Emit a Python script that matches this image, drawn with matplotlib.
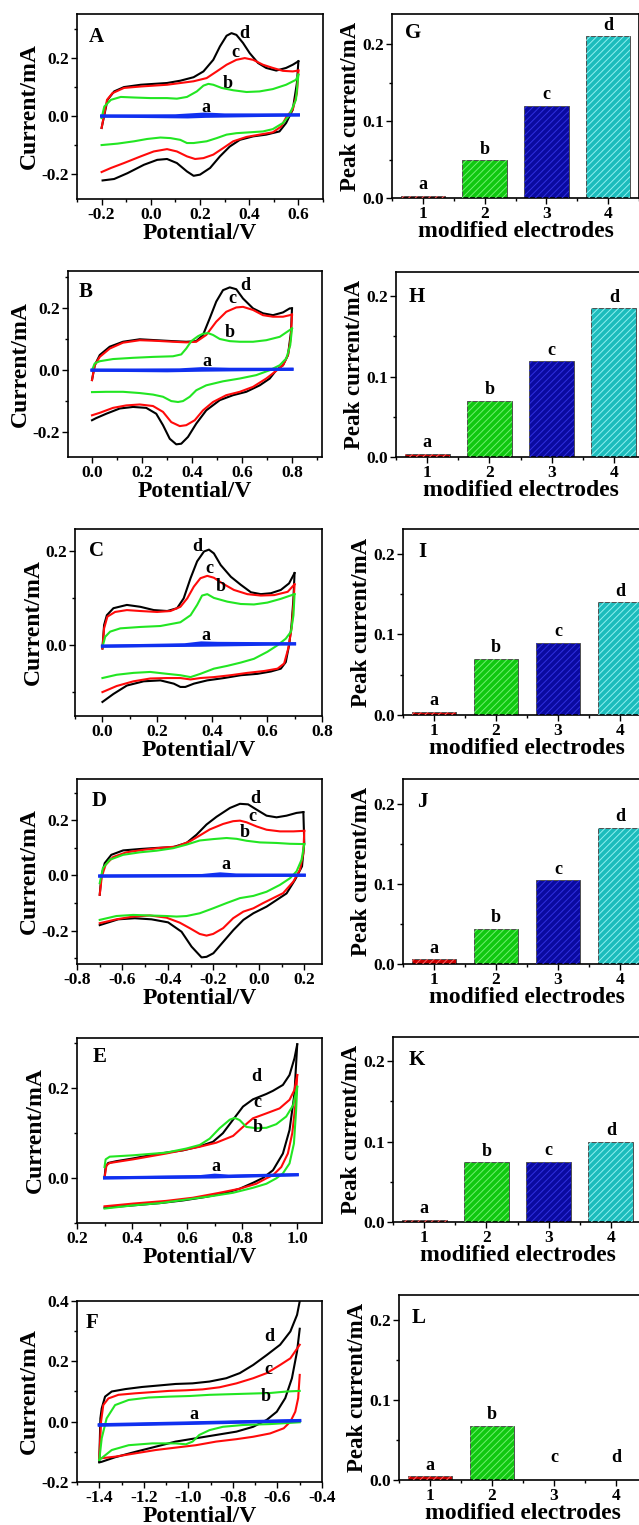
import matplotlib
matplotlib.use("Agg")
import matplotlib.pyplot as plt
from matplotlib.ticker import MultipleLocator, FormatStrFormatter

plt.rcParams['font.family'] = ['Liberation Serif', 'DejaVu Serif']
plt.rcParams['font.weight'] = 'bold'
plt.rcParams['axes.labelweight'] = 'bold'
plt.rcParams['axes.unicode_minus'] = False
plt.rcParams['hatch.linewidth'] = 0.7

# ---------------- CV data: (potential V, current mA), forward and reverse sweeps ----------------
# panel A
A_d_fwd = [(-0.2,-0.041),(-0.176,0.056),(-0.149,0.085),(-0.109,0.1),(-0.041,0.108),(0.012,0.111),(0.066,0.114),
           (0.120,0.122),(0.174,0.134),(0.214,0.154),(0.254,0.194),(0.281,0.240),(0.308,0.277),(0.328,0.286),
           (0.348,0.280),(0.375,0.252),(0.402,0.217),(0.436,0.183),(0.469,0.166),(0.510,0.157),(0.550,0.166),
           (0.577,0.177),(0.6,0.189)]
A_d_rev = [(0.6,0.189),(0.594,0.114),(0.577,0.022),(0.550,-0.024),(0.523,-0.053),(0.469,-0.064),(0.416,-0.07),
           (0.362,-0.082),(0.321,-0.105),(0.281,-0.139),(0.241,-0.179),(0.2,-0.202),(0.174,-0.206),(0.147,-0.191),
           (0.106,-0.162),(0.066,-0.148),(0.026,-0.151),(-0.028,-0.168),(-0.095,-0.197),(-0.149,-0.217),(-0.196,-0.222)]
A_c_fwd = [(-0.2,-0.041),(-0.178,0.056),(-0.156,0.079),(-0.109,0.097),(-0.041,0.102),(0.012,0.105),(0.066,0.108),
           (0.120,0.114),(0.174,0.120),(0.227,0.131),(0.268,0.154),(0.308,0.177),(0.348,0.194),(0.382,0.2),
           (0.416,0.194),(0.456,0.177),(0.496,0.166),(0.537,0.156),(0.577,0.154),(0.6,0.157)]
A_c_rev = [(0.6,0.157),(0.594,0.079),(0.577,0.022),(0.553,0.0),(0.530,-0.036),(0.496,-0.056),(0.442,-0.064),
           (0.389,-0.072),(0.335,-0.087),(0.295,-0.110),(0.254,-0.133),(0.214,-0.145),(0.180,-0.148),(0.147,-0.139),
           (0.106,-0.122),(0.066,-0.114),(0.012,-0.122),(-0.041,-0.139),(-0.109,-0.162),(-0.162,-0.179),(-0.2,-0.193)]
A_b_fwd = [(-0.2,-0.007),(-0.189,0.033),(-0.162,0.056),(-0.122,0.066),(-0.068,0.064),(-0.001,0.062),(0.066,0.062),
           (0.106,0.06),(0.147,0.066),(0.187,0.085),(0.214,0.105),(0.234,0.111),(0.254,0.108),(0.288,0.097),
           (0.335,0.089),(0.389,0.083),(0.442,0.085),(0.496,0.093),(0.550,0.108),(0.590,0.125),(0.6,0.143)]
A_b_rev = [(0.6,0.143),(0.590,0.056),(0.561,0.0),(0.537,-0.024),(0.496,-0.045),(0.456,-0.053),(0.402,-0.056),
           (0.348,-0.059),(0.308,-0.064),(0.268,-0.076),(0.227,-0.087),(0.174,-0.093),(0.147,-0.093),(0.120,-0.082),
           (0.080,-0.076),(0.039,-0.074),(-0.015,-0.079),(-0.068,-0.087),(-0.135,-0.095),(-0.2,-0.1)]
A_a_fwd = [(-0.2,0.0),(0.1,0.001),(0.18,0.005),(0.22,0.007),(0.3,0.004),(0.6,0.004)]
A_a_rev = [(0.6,0.004),(0.22,-0.001),(0.15,-0.003),(-0.2,0.0)]

# panel B
B_d_fwd = [(0.0,-0.032),(0.011,0.016),(0.031,0.049),(0.071,0.076),(0.124,0.092),(0.191,0.100),(0.257,0.097),
           (0.324,0.094),(0.377,0.092),(0.417,0.094),(0.444,0.114),(0.471,0.168),(0.497,0.222),(0.524,0.259),
           (0.551,0.268),(0.577,0.262),(0.604,0.232),(0.644,0.200),(0.684,0.184),(0.724,0.178),(0.764,0.187),
           (0.791,0.200),(0.8,0.200)]
B_d_rev = [(0.8,0.200),(0.796,0.124),(0.784,0.049),(0.764,0.016),(0.737,0.0),(0.711,-0.027),(0.671,-0.049),
           (0.617,-0.070),(0.564,-0.081),(0.511,-0.097),(0.457,-0.130),(0.417,-0.173),(0.384,-0.216),(0.357,-0.238),
           (0.337,-0.240),(0.311,-0.222),(0.284,-0.178),(0.257,-0.141),(0.217,-0.122),(0.164,-0.119),(0.111,-0.124),
           (0.057,-0.141),(0.017,-0.155),(0.0,-0.162)]
B_c_fwd = [(0.0,-0.032),(0.011,0.016),(0.031,0.043),(0.071,0.070),(0.124,0.089),(0.191,0.097),(0.257,0.095),
           (0.324,0.092),(0.377,0.090),(0.417,0.092),(0.457,0.114),(0.497,0.157),(0.537,0.189),(0.577,0.203),
           (0.604,0.205),(0.644,0.195),(0.684,0.178),(0.724,0.173),(0.764,0.173),(0.791,0.178),(0.8,0.180)]
B_c_rev = [(0.8,0.180),(0.795,0.103),(0.784,0.049),(0.764,0.016),(0.737,-0.002),(0.697,-0.027),(0.644,-0.054),
           (0.591,-0.070),(0.537,-0.081),(0.484,-0.103),(0.444,-0.130),(0.411,-0.162),(0.377,-0.178),(0.351,-0.181),
           (0.317,-0.168),(0.284,-0.135),(0.244,-0.116),(0.191,-0.111),(0.137,-0.114),(0.084,-0.122),(0.031,-0.138),
           (0.0,-0.146)]
B_b_fwd = [(0.0,0.0),(0.011,0.022),(0.031,0.029),(0.084,0.036),(0.164,0.040),(0.244,0.043),(0.324,0.045),
           (0.357,0.051),(0.377,0.070),(0.397,0.094),(0.424,0.110),(0.444,0.118),(0.464,0.120),(0.484,0.114),
           (0.511,0.101),(0.551,0.094),(0.591,0.092),(0.644,0.092),(0.697,0.097),(0.751,0.108),(0.791,0.130),
           (0.8,0.135)]
B_b_rev = [(0.8,0.135),(0.793,0.081),(0.777,0.038),(0.751,0.016),(0.711,0.0),(0.657,-0.016),(0.591,-0.027),
           (0.524,-0.036),(0.457,-0.049),(0.417,-0.065),(0.391,-0.086),(0.364,-0.100),(0.344,-0.103),(0.317,-0.100),
           (0.284,-0.086),(0.244,-0.079),(0.191,-0.074),(0.124,-0.070),(0.057,-0.070),(0.0,-0.071)]
B_a_fwd = [(0.0,0.0),(0.35,0.001),(0.44,0.005),(0.55,0.003),(0.8,0.003)]
B_a_rev = [(0.8,0.003),(0.44,0.0),(0.3,-0.002),(0.0,0.0)]

# panel C
C_d_fwd = [(0.0,-0.007),(0.006,0.043),(0.016,0.064),(0.040,0.079),(0.089,0.086),(0.138,0.082),(0.187,0.075),
           (0.236,0.073),(0.272,0.079),(0.296,0.1),(0.321,0.143),(0.345,0.179),(0.370,0.2),(0.388,0.204),
           (0.406,0.196),(0.431,0.171),(0.468,0.146),(0.504,0.129),(0.541,0.113),(0.577,0.109),(0.614,0.111),
           (0.650,0.118),(0.680,0.132),(0.7,0.154)]
C_d_rev = [(0.7,0.154),(0.696,0.1),(0.689,0.043),(0.680,0.0),(0.668,-0.036),(0.650,-0.05),(0.614,-0.056),
           (0.565,-0.061),(0.504,-0.064),(0.443,-0.07),(0.382,-0.075),(0.333,-0.082),(0.302,-0.089),(0.284,-0.089),
           (0.260,-0.082),(0.211,-0.075),(0.150,-0.077),(0.089,-0.086),(0.040,-0.104),(0.0,-0.121)]
C_c_fwd = [(0.0,-0.007),(0.006,0.036),(0.018,0.061),(0.046,0.071),(0.089,0.075),(0.138,0.073),(0.199,0.071),
           (0.248,0.073),(0.284,0.082),(0.309,0.1),(0.333,0.125),(0.357,0.143),(0.382,0.148),(0.406,0.144),
           (0.437,0.132),(0.479,0.118),(0.528,0.109),(0.577,0.106),(0.626,0.107),(0.675,0.114),(0.7,0.13)]
C_c_rev = [(0.7,0.13),(0.696,0.086),(0.689,0.036),(0.677,-0.007),(0.662,-0.039),(0.638,-0.05),(0.589,-0.055),
           (0.528,-0.059),(0.467,-0.064),(0.406,-0.068),(0.357,-0.07),(0.321,-0.073),(0.284,-0.07),(0.235,-0.07),
           (0.174,-0.071),(0.113,-0.077),(0.052,-0.087),(0.0,-0.1)]
C_b_fwd = [(0.0,-0.004),(0.01,0.018),(0.028,0.029),(0.065,0.036),(0.138,0.039),(0.211,0.041),(0.284,0.049),
           (0.321,0.064),(0.345,0.086),(0.363,0.106),(0.382,0.109),(0.406,0.101),(0.455,0.093),(0.504,0.088),
           (0.552,0.087),(0.601,0.091),(0.65,0.099),(0.7,0.109)]
C_b_rev = [(0.7,0.109),(0.696,0.064),(0.687,0.029),(0.668,0.014),(0.638,0.0),(0.601,-0.014),(0.552,-0.029),
           (0.504,-0.037),(0.455,-0.044),(0.406,-0.05),(0.357,-0.061),(0.321,-0.068),(0.284,-0.064),(0.235,-0.061),
           (0.174,-0.057),(0.113,-0.059),(0.052,-0.063),(0.0,-0.07)]
C_a_fwd = [(0.0,-0.002),(0.3,0.001),(0.36,0.005),(0.42,0.004),(0.7,0.003)]
C_a_rev = [(0.7,0.003),(0.36,0.0),(0.0,-0.002)]

# panel D
D_d_fwd = [(-0.7,-0.070),(-0.693,-0.004),(-0.678,0.045),(-0.649,0.075),(-0.597,0.091),(-0.524,0.096),(-0.450,0.1),
           (-0.377,0.103),(-0.318,0.118),(-0.274,0.148),(-0.230,0.185),(-0.186,0.213),(-0.127,0.245),(-0.083,0.260),
           (-0.047,0.258),(-0.010,0.239),(0.034,0.217),(0.078,0.211),(0.122,0.217),(0.166,0.227),(0.196,0.230)]
D_d_rev = [(0.196,0.230),(0.2,0.118),(0.19,0.033),(0.159,-0.016),(0.122,-0.065),(0.078,-0.089),(0.034,-0.113),
           (-0.024,-0.137),(-0.068,-0.161),(-0.112,-0.198),(-0.156,-0.240),(-0.200,-0.282),(-0.230,-0.295),
           (-0.252,-0.297),(-0.296,-0.258),(-0.340,-0.204),(-0.399,-0.170),(-0.472,-0.159),(-0.546,-0.155),
           (-0.619,-0.159),(-0.7,-0.180)]
D_c_fwd = [(-0.7,-0.070),(-0.691,-0.004),(-0.674,0.039),(-0.641,0.067),(-0.583,0.084),(-0.509,0.093),(-0.436,0.1),
           (-0.362,0.105),(-0.303,0.124),(-0.260,0.145),(-0.216,0.167),(-0.157,0.187),(-0.113,0.197),(-0.083,0.199),
           (-0.054,0.193),(-0.010,0.178),(0.034,0.166),(0.093,0.160),(0.152,0.160),(0.2,0.162)]
D_c_rev = [(0.2,0.162),(0.196,0.081),(0.181,0.021),(0.152,-0.022),(0.107,-0.064),(0.063,-0.082),(0.019,-0.1),
           (-0.024,-0.119),(-0.068,-0.131),(-0.113,-0.155),(-0.157,-0.191),(-0.201,-0.212),(-0.230,-0.218),
           (-0.260,-0.212),(-0.304,-0.191),(-0.348,-0.171),(-0.406,-0.153),(-0.480,-0.145),(-0.553,-0.149),
           (-0.627,-0.159),(-0.7,-0.173)]
D_b_fwd = [(-0.7,-0.028),(-0.686,0.027),(-0.656,0.057),(-0.597,0.075),(-0.524,0.084),(-0.450,0.090),(-0.377,0.099),
           (-0.318,0.112),(-0.260,0.127),(-0.201,0.132),(-0.142,0.136),(-0.098,0.133),(-0.054,0.126),(0.005,0.120),
           (0.078,0.118),(0.137,0.115),(0.2,0.114)]
D_b_rev = [(0.2,0.114),(0.188,0.057),(0.166,0.015),(0.137,-0.010),(0.093,-0.034),(0.034,-0.059),(-0.024,-0.074),
           (-0.083,-0.082),(-0.142,-0.1),(-0.201,-0.119),(-0.260,-0.137),(-0.318,-0.147),(-0.362,-0.149),
           (-0.406,-0.147),(-0.480,-0.145),(-0.553,-0.143),(-0.627,-0.147),(-0.7,-0.161)]
D_a_fwd = [(-0.7,-0.002),(-0.25,0.0),(-0.17,0.006),(-0.1,0.002),(0.2,0.001)]
D_a_rev = [(0.2,0.001),(-0.17,-0.001),(-0.7,-0.002)]

# panel E
E_d_fwd = [(0.3,0.0),(0.304,0.024),(0.313,0.033),(0.343,0.037),(0.403,0.043),(0.464,0.050),(0.524,0.056),
           (0.585,0.061),(0.646,0.070),(0.694,0.080),(0.730,0.099),(0.767,0.129),(0.803,0.158),(0.839,0.174),
           (0.888,0.186),(0.912,0.193),(0.948,0.206),(0.972,0.228),(0.990,0.265),(1.0,0.296)]
E_d_rev = [(1.0,0.296),(0.990,0.187),(0.972,0.106),(0.948,0.054),(0.912,0.017),(0.876,0.0),(0.839,-0.011),
           (0.791,-0.024),(0.742,-0.033),(0.670,-0.042),(0.585,-0.050),(0.500,-0.056),(0.403,-0.061),(0.3,-0.066)]
E_c_fwd = [(0.3,0.0),(0.307,0.028),(0.319,0.033),(0.403,0.041),(0.524,0.054),(0.646,0.069),(0.706,0.078),
           (0.767,0.093),(0.803,0.113),(0.839,0.132),(0.888,0.143),(0.936,0.154),(0.972,0.173),(0.990,0.195),
           (1.0,0.228)]
E_c_rev = [(1.0,0.228),(0.994,0.165),(0.982,0.099),(0.966,0.054),(0.942,0.024),(0.912,0.006),(0.888,-0.001),
           (0.851,-0.013),(0.791,-0.024),(0.718,-0.033),(0.621,-0.044),(0.524,-0.051),(0.403,-0.057),(0.3,-0.063)]
E_b_fwd = [(0.3,0.024),(0.304,0.041),(0.319,0.047),(0.403,0.050),(0.524,0.056),(0.597,0.065),(0.646,0.073),
           (0.682,0.087),(0.718,0.110),(0.755,0.129),(0.773,0.133),(0.791,0.128),(0.815,0.113),(0.851,0.110),
           (0.888,0.111),(0.924,0.119),(0.960,0.136),(0.985,0.161),(1.0,0.202)]
E_b_rev = [(1.0,0.202),(0.996,0.150),(0.988,0.076),(0.972,0.032),(0.948,0.010),(0.924,-0.001),(0.888,-0.013),
           (0.839,-0.022),(0.767,-0.033),(0.694,-0.040),(0.597,-0.048),(0.500,-0.056),(0.403,-0.061),(0.3,-0.068)]
E_a_fwd = [(0.3,0.0),(0.65,0.003),(0.7,0.006),(0.75,0.004),(1.0,0.007)]
E_a_rev = [(1.0,0.007),(0.7,0.002),(0.3,0.0)]

# panel F
F_d_fwd = [(-1.4,-0.133),(-1.395,0.011),(-1.389,0.044),(-1.374,0.083),(-1.344,0.100),(-1.283,0.108),
           (-1.208,0.115),(-1.132,0.120),(-1.057,0.125),(-0.981,0.127),(-0.905,0.133),(-0.830,0.144),
           (-0.769,0.161),(-0.709,0.188),(-0.648,0.221),(-0.588,0.255),(-0.542,0.299),(-0.512,0.354),(-0.5,0.399)]
F_d_rev = [(-0.5,0.308),(-0.512,0.233),(-0.535,0.144),(-0.565,0.078),(-0.603,0.033),(-0.648,0.006),
           (-0.709,-0.017),(-0.784,-0.033),(-0.875,-0.044),(-0.966,-0.055),(-1.057,-0.066),(-1.147,-0.083),
           (-1.238,-0.100),(-1.329,-0.118),(-1.389,-0.133),(-1.4,-0.135)]
F_c_fwd = [(-1.4,-0.122),(-1.392,0.0),(-1.382,0.055),(-1.359,0.077),(-1.314,0.089),(-1.238,0.094),
           (-1.162,0.098),(-1.087,0.102),(-1.011,0.104),(-0.936,0.107),(-0.860,0.114),(-0.784,0.127),
           (-0.709,0.144),(-0.648,0.161),(-0.588,0.188),(-0.542,0.210),(-0.5,0.255)]
F_c_rev = [(-0.5,0.155),(-0.507,0.078),(-0.520,0.033),(-0.542,0.0),(-0.572,-0.022),(-0.633,-0.039),
           (-0.709,-0.050),(-0.784,-0.058),(-0.875,-0.066),(-0.966,-0.078),(-1.057,-0.086),(-1.147,-0.094),
           (-1.238,-0.105),(-1.329,-0.116),(-1.4,-0.122)]
F_b_fwd = [(-1.4,-0.127),(-1.389,-0.055),(-1.367,0.011),(-1.329,0.055),(-1.268,0.072),(-1.178,0.080),
           (-1.087,0.083),(-0.996,0.085),(-0.905,0.089),(-0.815,0.091),(-0.724,0.093),(-0.633,0.095),
           (-0.558,0.100),(-0.5,0.102)]
F_b_rev = [(-0.5,-0.002),(-0.633,-0.008),(-0.754,-0.011),(-0.845,-0.017),(-0.905,-0.028),(-0.951,-0.044),
           (-0.981,-0.066),(-1.011,-0.075),(-1.057,-0.072),(-1.162,-0.072),(-1.268,-0.078),(-1.344,-0.094),
           (-1.4,-0.127)]
F_a_fwd = [(-1.4,-0.010),(-1.0,-0.004),(-0.5,0.004)]
F_a_rev = [(-0.5,0.003),(-1.0,-0.006),(-1.4,-0.012)]

# ---------------- peak currents ----------------
electrodes = [1, 2, 3, 4]
bar_labels = ['a', 'b', 'c', 'd']
G_peak = [0.003, 0.049, 0.120, 0.210]
H_peak = [0.004, 0.070, 0.119, 0.185]
I_peak = [0.004, 0.070, 0.090, 0.140]
J_peak = [0.006, 0.044, 0.105, 0.170]
K_peak = [0.003, 0.074, 0.075, 0.100]
L_peak = [0.005, 0.068, 0.0, 0.0]

curve_colors = {'d': 'black', 'c': '#ff0a0a', 'b': '#22e622', 'a': '#1030f0'}
bar_colors = ['#c80000', '#10c810', '#0a0aa0', '#1cbcbc']
hatch_colors = ['#ff6060', '#70f070', '#3030e0', '#90f0f0']

W, H = 639.0, 1525.0
fig = plt.figure(figsize=(W/100, H/100), dpi=100)

def box(l, t, r, b):
	return [l/W, 1-b/H, (r-l)/W, (b-t)/H]

def style(ax, xmaj, ymaj):
	ax.xaxis.set_major_locator(MultipleLocator(xmaj))
	ax.xaxis.set_minor_locator(MultipleLocator(xmaj/2))
	ax.yaxis.set_major_locator(MultipleLocator(ymaj))
	ax.yaxis.set_minor_locator(MultipleLocator(ymaj/2))
	ax.tick_params(which='both', direction='out', top=False, right=False, width=1.0, labelsize=12.5, pad=2)
	ax.tick_params(which='major', length=4)
	ax.tick_params(which='minor', length=2.5)
	for s in ax.spines.values():
		s.set_linewidth(1.2)

# cv panels: letter, curves, axes box (pixels), xlim, ylim, x tick step, curve label spots, letter spot
def cv_panel(letter, curves, pos, xlim, ylim, xstep, lbl, letter_xy):
	ax = fig.add_axes(box(*pos))
	for key in ['d', 'c', 'b', 'a']:
		fwd, rev = curves[key]
		lw = 2.2 if key == 'a' else 1.5
		for seg in (fwd, rev):
			ax.plot([p[0] for p in seg], [p[1] for p in seg], color=curve_colors[key], lw=lw)
		ax.text(lbl[key][0], lbl[key][1], key, fontsize=13, ha='center', va='center')
	ax.set_xlim(*xlim)
	ax.set_ylim(*ylim)
	style(ax, xstep, 0.2)
	ax.xaxis.set_major_formatter(FormatStrFormatter('%.1f'))
	ax.yaxis.set_major_formatter(FormatStrFormatter('%.1f'))
	ax.set_xlabel('Potential/V', fontsize=17, labelpad=0)
	ax.set_ylabel('Current/mA', fontsize=17, labelpad=1)
	ax.text(letter_xy[0], letter_xy[1], letter, transform=ax.transAxes, fontsize=15, ha='center', va='center')
	return ax

def bar_panel(letter, vals, pos, ytop, letter_xy):
	ax = fig.add_axes(box(*pos))
	ax.bar(electrodes, vals, width=0.72, color=bar_colors, edgecolor='#505050', linewidth=0.7, zorder=2)
	ax.bar(electrodes, vals, width=0.72, color='none', edgecolor=hatch_colors, linewidth=0, hatch='/////', zorder=3)
	for x, v, t in zip(electrodes, vals, bar_labels):
		ax.text(x, v + 0.003 if v > 0 else 0.017, t, fontsize=13, ha='center', va='bottom')
	ax.set_xlim(0.5, 4.5)
	ax.set_ylim(0, ytop)
	style(ax, 1, 0.1)
	ax.yaxis.set_major_formatter(FormatStrFormatter('%.1f'))
	ax.set_xlabel('modified electrodes', fontsize=17, labelpad=-1)
	ax.set_ylabel('Peak current/mA', fontsize=16.5, labelpad=1)
	ax.text(letter_xy[0], letter_xy[1], letter, transform=ax.transAxes, fontsize=15, ha='center', va='center')
	return ax

cv_panel('A', {'d': (A_d_fwd, A_d_rev), 'c': (A_c_fwd, A_c_rev), 'b': (A_b_fwd, A_b_rev), 'a': (A_a_fwd, A_a_rev)},
	(77, 14, 323, 199), (-0.3, 0.7), (-0.286, 0.352), 0.2,
	{'d': (0.379, 0.286), 'c': (0.342, 0.22), 'b': (0.312, 0.114), 'a': (0.223, 0.028)}, (0.08, 0.876))
cv_panel('B', {'d': (B_d_fwd, B_d_rev), 'c': (B_c_fwd, B_c_rev), 'b': (B_b_fwd, B_b_rev), 'a': (B_a_fwd, B_a_rev)},
	(68, 271, 322, 457), (-0.096, 0.92), (-0.281, 0.321), 0.2,
	{'d': (0.611, 0.274), 'c': (0.56, 0.232), 'b': (0.551, 0.122), 'a': (0.46, 0.029)}, (0.07, 0.888))
cv_panel('C', {'d': (C_d_fwd, C_d_rev), 'c': (C_c_fwd, C_c_rev), 'b': (C_b_fwd, C_b_rev), 'a': (C_a_fwd, C_a_rev)},
	(75, 529, 322, 716), (-0.1, 0.8), (-0.151, 0.248), 0.2,
	{'d': (0.345, 0.211), 'c': (0.388, 0.164), 'b': (0.43, 0.125), 'a': (0.378, 0.021)}, (0.088, 0.88))
cv_panel('D', {'d': (D_d_fwd, D_d_rev), 'c': (D_c_fwd, D_c_rev), 'b': (D_b_fwd, D_b_rev), 'a': (D_a_fwd, D_a_rev)},
	(77, 779, 322, 964), (-0.8, 0.278), (-0.321, 0.35), 0.2,
	{'d': (-0.017, 0.281), 'c': (-0.029, 0.215), 'b': (-0.061, 0.156), 'a': (-0.147, 0.039)}, (0.09, 0.879))
cv_panel('E', {'d': (E_d_fwd, E_d_rev), 'c': (E_c_fwd, E_c_rev), 'b': (E_b_fwd, E_b_rev), 'a': (E_a_fwd, E_a_rev)},
	(77, 1038, 322, 1223), (0.2, 1.09), (-0.1, 0.31), 0.2,
	{'d': (0.851, 0.224), 'c': (0.857, 0.167), 'b': (0.857, 0.112), 'a': (0.704, 0.026)}, (0.093, 0.9))
cv_panel('F', {'d': (F_d_fwd, F_d_rev), 'c': (F_c_fwd, F_c_rev), 'b': (F_b_fwd, F_b_rev), 'a': (F_a_fwd, F_a_rev)},
	(77, 1301, 322, 1482), (-1.5, -0.4), (-0.2, 0.4), 0.2,
	{'d': (-0.638, 0.282), 'c': (-0.641, 0.174), 'b': (-0.653, 0.083), 'a': (-0.976, 0.025)}, (0.061, 0.877))

bar_panel('G', G_peak, (392, 14, 639, 198), 0.239, (0.085, 0.897))
bar_panel('H', H_peak, (396, 272, 645, 457), 0.23, (0.085, 0.865))
bar_panel('I', I_peak, (403, 529, 651, 715), 0.231, (0.077, 0.879))
bar_panel('J', J_peak, (403, 779, 651, 964), 0.231, (0.077, 0.874))
bar_panel('K', K_peak, (393, 1037, 642, 1222), 0.23, (0.094, 0.877))
bar_panel('L', L_peak, (399, 1295, 647, 1480), 0.231, (0.078, 0.874))

fig.savefig('out.png', dpi=100)
